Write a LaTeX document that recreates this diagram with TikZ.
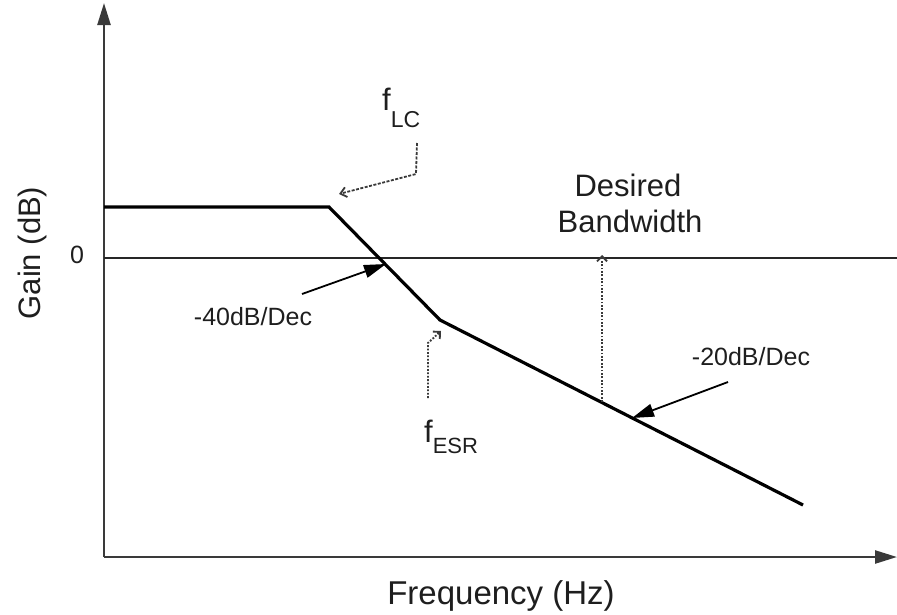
\documentclass[tikz,border=0pt]{standalone}
\usepackage{fontspec}
\setmainfont{Liberation Sans}
\usetikzlibrary{arrows.meta}
\definecolor{txt}{HTML}{1E1E1E}
\definecolor{axisc}{HTML}{3A3A3A}
\begin{document}
\begin{tikzpicture}[x=1pt,y=-1pt,
  lbl/.style={inner sep=0pt,text=txt},
  axisline/.style={line width=2.4pt,draw=axisc,-{Triangle[length=22pt,width=13pt]}},
  curve/.style={line width=3.2pt,line join=miter},
  slopearrow/.style={line width=1.8pt,-{Triangle[length=22pt,width=13pt]}},
  dasharrow/.style={line width=1.8pt,draw=axisc,dash pattern=on 3pt off 1.5pt,-{Straight Barb[length=6pt,width=10pt]}},
  dotarrow/.style={line width=1.9pt,draw=axisc,dash pattern=on 1.8pt off 1.6pt,-{Straight Barb[length=5pt,width=10pt]}}]
\useasboundingbox (0,0) rectangle (897,614);
% axes
\coordinate (o) at (104,557);
\coordinate (ytop) at (104,3);
\coordinate (xend) at (897,557);
\draw[axisline] (o) -- (ytop);
\draw[axisline] (o) -- (xend);
% zero line
\coordinate (z0) at (104,258);
\coordinate (z1) at (897,258);
\draw[line width=1.7pt,draw=black!85] (z0) -- (z1);
% gain curve
\coordinate (c0) at (104,207);
\coordinate (c1) at (329,207);
\coordinate (c2) at (440,320);
\coordinate (c3) at (803,505);
\draw[curve] (c0) -- (c1) -- (c2) -- (c3);
% labels
\node[lbl,rotate=90,anchor=base,font=\fontsize{31}{31}\selectfont] (gain) at (40,253) {Gain (dB)};
\node[lbl,anchor=base,font=\fontsize{33}{33}\selectfont] (freq) at (501,604) {Frequency (Hz)};
\node[lbl,font=\fontsize{25}{25}\selectfont] (zero) at (77,255) {0};
\node[lbl,anchor=base,font=\fontsize{31}{31}\selectfont] (des) at (628,196) {Desired};
\node[lbl,anchor=base,font=\fontsize{31}{31}\selectfont] (bw) at (630,232) {Bandwidth};
\node[lbl,anchor=base,font=\fontsize{25}{25}\selectfont] (m40) at (253,325) {-40dB/Dec};
\node[lbl,anchor=base,font=\fontsize{25}{25}\selectfont] (m20) at (751,365) {-20dB/Dec};
\node[lbl,anchor=base west] (flc) at (382,110) {\fontsize{31}{31}\selectfont f\raisebox{-17pt}{\fontsize{23}{23}\selectfont LC}};
\node[lbl,anchor=base west] (fesr) at (424,442) {\fontsize{31}{31}\selectfont f\raisebox{-11pt}{\fontsize{22}{22}\selectfont ESR}};
% slope arrows
\coordinate (t40) at (302,294);
\coordinate (h40) at (386,264);
\draw[slopearrow] (t40) -- (h40);
\coordinate (t20) at (728,382);
\coordinate (h20) at (632,418);
\draw[slopearrow] (t20) -- (h20);
% fLC arrow
\coordinate (a1) at (417,143);
\coordinate (a2) at (416,174);
\coordinate (a3) at (339,194);
\draw[dasharrow] (a1) -- (a2) -- (a3);
% fESR arrow
\coordinate (b1) at (428,398);
\coordinate (b2) at (428,343);
\coordinate (b3) at (441,331);
\draw[dotarrow] (b1) -- (b2) -- (b3);
% bandwidth arrow
\coordinate (d1) at (602,402);
\coordinate (d2) at (602,255);
\draw[dotarrow] (d1) -- (d2);
\end{tikzpicture}
\end{document}
